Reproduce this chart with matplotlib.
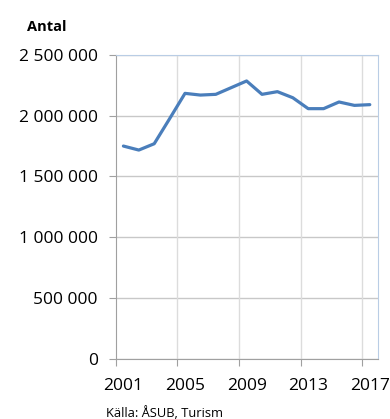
import matplotlib
matplotlib.use("Agg")
import matplotlib.pyplot as plt
from matplotlib.ticker import FuncFormatter

years = list(range(2001, 2018))
values = [1750000, 1717000, 1769000, 1975000, 2184000, 2170000, 2176000, 2231000,
          2286000, 2176000, 2198000, 2148000, 2058000, 2058000, 2113000, 2085000, 2091000]
label_years = [2001, 2005, 2009, 2013, 2017]
y_ticks = [0, 500000, 1000000, 1500000, 2000000, 2500000]

plt.rcParams['font.family'] = ['Open Sans', 'DejaVu Sans']

fig = plt.figure(figsize=(3.9, 4.19), dpi=100)
ax = fig.add_axes([115.7/390, 1-358.5/419, (377.5-115.7)/390, (358.5-55)/419])

x = list(range(len(years)))
ax.plot(x, values, color='#4a7ebb', linewidth=2.3, solid_capstyle='round', zorder=3)

ax.set_xlim(-0.5, len(years) - 0.5)
ax.set_ylim(0, 2500000)

bounds = [years.index(y) - 0.5 for y in label_years]
ax.set_xticks(bounds)
ax.set_xticklabels([])
ax.set_xticks([years.index(y) for y in label_years], minor=True)
ax.set_xticklabels([str(y) for y in label_years], minor=True, fontsize=12.5)
ax.tick_params(axis='x', which='minor', length=0, pad=14)
ax.tick_params(axis='x', which='major', length=5, color='#a0a0a0', direction='out')
for b in bounds[1:]:
    ax.axvline(b, color='#dcdcdc', linewidth=1, zorder=1)

ax.set_yticks(y_ticks)
ax.yaxis.set_major_formatter(FuncFormatter(lambda v, p: f"{int(v):,}".replace(",", " ")))
ax.tick_params(axis='y', length=5, color='#a0a0a0', direction='out', labelsize=12.5, pad=8)
ax.yaxis.grid(True, color='#c8c8c8', linewidth=1, zorder=1)

for s in ['left', 'bottom']:
    ax.spines[s].set_color('#a0a0a0')
for s in ['top', 'right']:
    ax.spines[s].set_color('#b9cde5')
ax.set_axisbelow(True)

fig.text(27/390, 1-31/419, 'Antal', fontsize=10.5, fontweight='bold', va='baseline', ha='left')
fig.text(106/390, 1-417/419, 'Källa: ÅSUB, Turism', fontsize=9.3, va='baseline', ha='left')

fig.savefig('out.png', dpi=100)
